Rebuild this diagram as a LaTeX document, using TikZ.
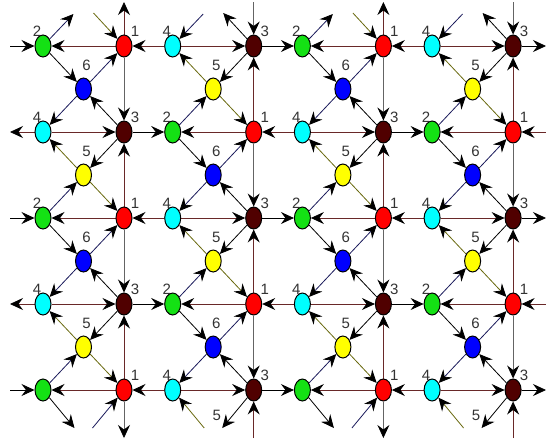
\documentclass[tikz,border=0pt]{standalone}
\usepackage{fontspec}
\setmainfont{Liberation Sans}
\usetikzlibrary{arrows.meta,shapes.geometric,backgrounds}
\definecolor{vgreen}{RGB}{20,225,20}
\definecolor{vred}{RGB}{255,0,0}
\definecolor{vcyan}{RGB}{0,255,255}
\definecolor{vmaroon}{RGB}{80,0,0}
\definecolor{vblue}{RGB}{0,0,255}
\definecolor{vyellow}{RGB}{255,255,0}
\definecolor{rust}{RGB}{105,40,40}
\definecolor{navy}{RGB}{25,25,90}
\definecolor{olive}{RGB}{105,105,15}
\definecolor{ash}{RGB}{100,100,100}
\tikzset{
  >={Stealth[length=13pt,width=12pt,inset=4.5pt,color=black]},
  vtx/.style={ellipse,draw,line width=1pt,fill=#1,minimum width=16pt,
    minimum height=22pt,inner sep=0pt},
  num/.style={font=\fontsize{15}{15}\selectfont,text=black!80,inner sep=0pt},
  tagR/.style={label={[num,xshift=11pt,yshift=15pt]center:#1}},
  tagL/.style={label={[num,xshift=-6pt,yshift=15pt]center:#1}},
  tagM/.style={label={[num,xshift=3pt,yshift=24pt]center:#1}},
  link/.style={->,line width=0.8pt,draw=#1},
  link/.default=black,
}
\begin{document}
\begin{tikzpicture}[x=1pt,y=-1pt]
  \useasboundingbox (0,0) rectangle (546,445);
  % corner vertices, two per column pair
  \foreach \j in {0,...,4}
    \foreach \p in {0,...,3}{
      \pgfmathtruncatemacro\odd{mod(\j+\p,2)}
      \ifnum\odd=0 \def\na{2}\def\ca{vgreen}\def\nb{1}\def\cb{vred}
      \else \def\na{4}\def\ca{vcyan}\def\nb{3}\def\cb{vmaroon}\fi
      \ifnum\j=4 \ifnum\odd=0 \def\na{}\fi\fi
      \node[vtx=\ca,tagL=\na] (L-\p-\j) at (43+129.7*\p,46+86*\j) {};
      \node[vtx=\cb,tagR=\nb] (R-\p-\j) at (124+129.7*\p,46+86*\j) {};
    }
  % centre vertices
  \foreach \m in {0,...,3}
    \foreach \p in {0,...,3}{
      \pgfmathtruncatemacro\odd{mod(\m+\p,2)}
      \ifnum\odd=0 \def\na{6}\def\ca{vblue}\else \def\na{5}\def\ca{vyellow}\fi
      \node[vtx=\ca,tagM=\na] (M-\p-\m) at (83.5+129.7*\p,89+86*\m) {};
    }
  % loose ends at the border
  \foreach \p in {0,...,3}{
    \coordinate (tl-\p) at (73.5+129.7*\p,14);
    \coordinate (tr-\p) at (93.5+129.7*\p,13);
    \coordinate (bl-\p) at (74.5+129.7*\p,428);
    \coordinate (br-\p) at (92.5+129.7*\p,428);
    \coordinate (vt-\p) at (124+129.7*\p,2);
    \coordinate (vb-\p) at (124+129.7*\p,438);
  }
  \foreach \j in {0,...,4}{
    \coordinate (hl-\j) at (10,46+86*\j);
    \coordinate (hr-\j) at (546,46+86*\j);
  }
  \node[num] (b5a) at (216.7,415) {5};
  \node[num] (b5b) at (476,415) {5};

  \begin{scope}[on background layer]
    % diagonals through the centre vertices
    \foreach \m in {0,...,3}
      \foreach \p in {0,...,3}{
        \pgfmathtruncatemacro\odd{mod(\m+\p,2)}
        \pgfmathtruncatemacro\n{\m+1}
        \ifnum\odd=0
          \draw[link] (L-\p-\m) -- (M-\p-\m);
          \draw[link=navy] (M-\p-\m) -- (R-\p-\m);
          \draw[link=navy] (M-\p-\m) -- (L-\p-\n);
          \draw[link] (R-\p-\n) -- (M-\p-\m);
        \else
          \draw[link=olive] (M-\p-\m) -- (L-\p-\m);
          \draw[link] (R-\p-\m) -- (M-\p-\m);
          \draw[link=navy] (L-\p-\n) -- (M-\p-\m);
          \draw[link=olive] (M-\p-\m) -- (R-\p-\n);
        \fi
      }
    % rows and columns
    \foreach \j in {0,...,4}
      \foreach \p in {0,...,3}{
        \pgfmathtruncatemacro\odd{mod(\j+\p,2)}
        \pgfmathtruncatemacro\q{\p+1}
        \pgfmathtruncatemacro\k{\j+1}
        \ifnum\odd=0
          \draw[link=rust] (R-\p-\j) -- (L-\p-\j);
          \ifnum\p<3 \draw[link=rust] (L-\q-\j) -- (R-\p-\j);\fi
          \ifnum\j<4 \draw[link=ash] (R-\p-\j) -- (R-\p-\k);\fi
        \else
          \draw[link=rust] (L-\p-\j) -- (R-\p-\j);
          \ifnum\p<3 \draw[link] (R-\p-\j) -- (L-\q-\j);\fi
          \ifnum\j<4 \draw[link=rust] (R-\p-\k) -- (R-\p-\j);\fi
        \fi
      }
    % border
    \foreach \j in {0,2,4}{
      \draw[link] (hl-\j) -- (L-0-\j);
      \draw[link] (R-3-\j) -- (hr-\j);
    }
    \foreach \j in {1,3}{
      \draw[link=rust] (L-0-\j) -- (hl-\j);
      \draw[link=rust] (hr-\j) -- (R-3-\j);
    }
    \foreach \p in {0,2}{
      \draw[link=rust] (R-\p-0) -- (vt-\p);
      \draw[link=ash] (R-\p-4) -- (vb-\p);
      \draw[link=navy] (L-\p-0) -- (tl-\p);
      \draw[link=olive] (tr-\p) -- (R-\p-0);
      \draw[link] (L-\p-4) -- (bl-\p);
      \draw[link=navy] (br-\p) -- (R-\p-4);
    }
    \foreach \p in {1,3}{
      \draw[link=ash] (vt-\p) -- (R-\p-0);
      \draw[link=rust] (vb-\p) -- (R-\p-4);
      \draw[link=navy] (tl-\p) -- (L-\p-0);
      \draw[link] (R-\p-0) -- (tr-\p);
      \draw[link=olive] (bl-\p) -- (L-\p-4);
      \draw[link] (R-\p-4) -- (br-\p);
    }
  \end{scope}
\end{tikzpicture}
\end{document}
